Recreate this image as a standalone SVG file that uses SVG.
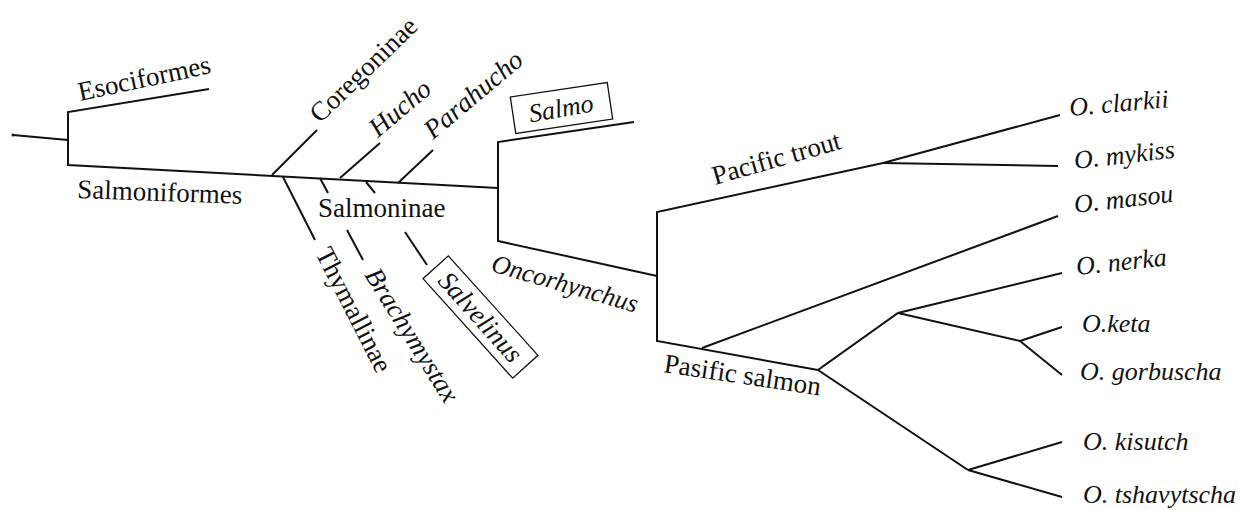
<svg xmlns="http://www.w3.org/2000/svg" width="1240" height="510" viewBox="0 0 1240 510">
<style>
.br{stroke:#111;stroke-width:2;fill:none;stroke-linecap:butt;stroke-linejoin:miter}
.bx{stroke:#111;stroke-width:1.3;fill:none}
text{font-family:'Liberation Serif','DejaVu Serif','Times New Roman',serif;font-size:27px;fill:#111}
.i{font-style:italic}
.sp{font-size:26px}
</style>
<rect width="1240" height="510" fill="#fff"/>
<g id="connectors" class="br">
<circle cx="13" cy="135" r="1.5" fill="#111" stroke="none"/>
<polyline points="13,135 68,140"/>
<polyline points="209,89 68,112 68,165 498,188"/>
<line x1="272" y1="175" x2="317" y2="130"/>
<line x1="340" y1="178" x2="380" y2="143"/>
<line x1="398" y1="183" x2="433" y2="150"/>
<line x1="320" y1="178" x2="328" y2="193"/>
<line x1="366" y1="182" x2="375" y2="193"/>
<line x1="283" y1="177" x2="315" y2="240"/>
<line x1="347" y1="230" x2="363" y2="260"/>
<line x1="405" y1="232" x2="427" y2="265"/>
<polyline points="634,122 498,142 498,241 657,276"/>
<polyline points="883,163 657,212 657,341 818,370"/>
<line x1="883" y1="163" x2="1060" y2="115"/>
<line x1="883" y1="163" x2="1058" y2="166"/>
<line x1="702" y1="348" x2="1058" y2="216"/>
<polyline points="1062,273 898,313 818,370 968,470"/>
<polyline points="898,313 1020,341"/>
<line x1="1020" y1="341" x2="1062" y2="327"/>
<line x1="1020" y1="341" x2="1062" y2="375"/>
<line x1="968" y1="470" x2="1062" y2="442"/>
<line x1="968" y1="470" x2="1062" y2="497"/>
</g>
<g id="n-esociformes"><text transform="translate(80,101) rotate(-12)">Esociformes</text></g>
<g id="n-salmoniformes"><text transform="translate(77,198) rotate(2)">Salmoniformes</text></g>
<g id="n-coregoninae"><text transform="translate(320,124) rotate(-44)">Coregoninae</text></g>
<g id="n-hucho"><text class="i" transform="translate(378,138) rotate(-40)">Hucho</text></g>
<g id="n-parahucho"><text class="i" transform="translate(433,140) rotate(-40)">Parahucho</text></g>
<g id="n-salmo">
<rect class="bx" x="-49" y="-18.5" width="98" height="37" transform="translate(561.5,108) rotate(-8.5)"/>
<text class="i sp" text-anchor="middle" transform="translate(561,108) rotate(-10) translate(0,9)">Salmo</text>
</g>
<g id="n-salmoninae"><text x="318" y="217">Salmoninae</text></g>
<g id="n-thymallinae"><text transform="translate(315,253) rotate(63)">Thymallinae</text></g>
<g id="n-brachymystax"><text class="i" transform="translate(364,275) rotate(58)">Brachymystax</text></g>
<g id="n-salvelinus">
<rect class="bx" x="-67" y="-17" width="134" height="34" transform="translate(480.5,317) rotate(48)"/>
<text class="i" text-anchor="middle" transform="translate(480.5,317) rotate(48) translate(0,9)">Salvelinus</text>
</g>
<g id="n-oncorhynchus"><text class="i sp" transform="translate(490,271) rotate(16)">Oncorhynchus</text></g>
<g id="n-pacific-trout"><text transform="translate(715,185) rotate(-16)">Pacific trout</text></g>
<g id="n-pasific-salmon"><text transform="translate(663,372) rotate(8.5)">Pasific salmon</text></g>
<g id="n-clarkii"><text class="i sp" transform="translate(1070,116) rotate(-5)">O. clarkii</text></g>
<g id="n-mykiss"><text class="i sp" transform="translate(1075,169) rotate(-6.5)">O. mykiss</text></g>
<g id="n-masou"><text class="i sp" transform="translate(1075,213) rotate(-6.5)">O. masou</text></g>
<g id="n-nerka"><text class="i sp" transform="translate(1077,275) rotate(-6)">O. nerka</text></g>
<g id="n-keta"><text class="i sp" x="1082" y="332">O.keta</text></g>
<g id="n-gorbuscha"><text class="i sp" x="1080" y="380">O. gorbuscha</text></g>
<g id="n-kisutch"><text class="i sp" x="1083" y="450">O. kisutch</text></g>
<g id="n-tshavytscha"><text class="i sp" x="1083" y="503">O. tshavytscha</text></g>
</svg>
